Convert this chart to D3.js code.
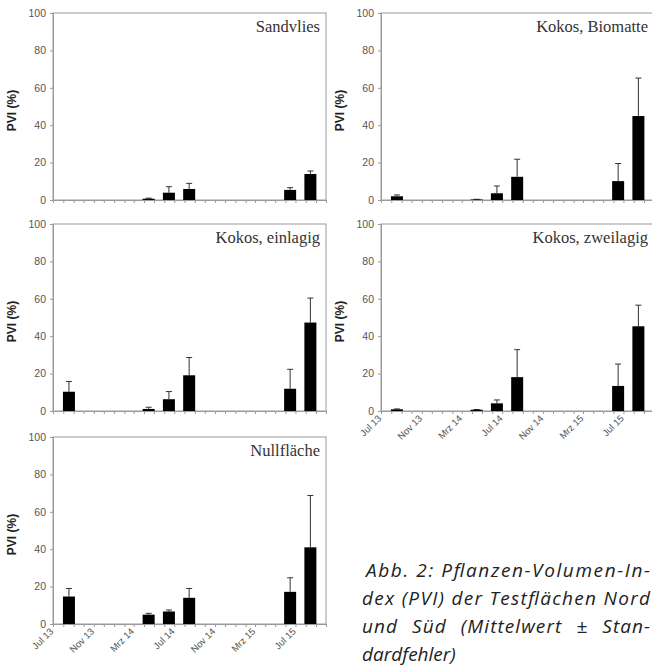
<!DOCTYPE html>
<html>
<head>
<meta charset="utf-8">
<script src="https://cdn.jsdelivr.net/npm/d3@7"></script>
<style>
  body { margin: 0; background: #fff; }
  svg { display: block; }
</style>
</head>
<body>
<svg id="chart" width="652" height="666"></svg>
<script>
// sampling dates (bar centres)
var dates = ["2013-08-18", "2014-04-15", "2014-06-15", "2014-08-15", "2015-06-15", "2015-08-15"];

// PVI (%) mean and standard error per test plot
var sandvlies      = [0, 0.7, 3.9, 5.9, 5.4, 13.9];
var sandvliesErr   = [0, 0.3, 3.2, 3.0, 1.2, 1.6];
var biomatte       = [2.0, 0.3, 3.6, 12.4, 10.1, 44.9];
var biomatteErr    = [0.7, 0.1, 3.9, 9.4, 9.4, 20.3];
var einlagig       = [10.3, 1.1, 6.3, 19.1, 11.9, 47.3];
var einlagigErr    = [5.5, 0.9, 4.1, 9.5, 10.4, 13.1];
var zweilagig      = [0.9, 0.7, 4.1, 18.1, 13.4, 45.3];
var zweilagigErr   = [0.2, 0.1, 1.8, 14.7, 11.7, 11.3];
var nullflaeche    = [14.7, 5.0, 6.7, 14.0, 17.2, 41.0];
var nullflaecheErr = [4.3, 0.7, 0.8, 5.0, 7.5, 27.7];

var titles = ["Sandvlies", "Kokos, Biomatte", "Kokos, einlagig", "Kokos, zweilagig", "Nullfläche"];

// x tick labels
var tickDates  = ["2013-07-01", "2013-11-01", "2014-03-01", "2014-07-01", "2014-11-01", "2015-03-01", "2015-07-01"];
var tickLabels = ["Jul 13", "Nov 13", "Mrz 14", "Jul 14", "Nov 14", "Mrz 15", "Jul 15"];
var yTicks = [0, 20, 40, 60, 80, 100];

var captionLines = ["Abb. 2: Pflanzen-Volumen-In-", "dex (PVI) der Testflächen Nord", "und Süd (Mittelwert ± Stan-", "dardfehler)"];

var parse = d3.timeParse("%Y-%m-%d");

var panels = [
  {title: titles[0], vals: sandvlies,   errs: sandvliesErr,   col: 0, row: 0, labels: false},
  {title: titles[1], vals: biomatte,    errs: biomatteErr,    col: 1, row: 0, labels: false},
  {title: titles[2], vals: einlagig,    errs: einlagigErr,    col: 0, row: 1, labels: false},
  {title: titles[3], vals: zweilagig,   errs: zweilagigErr,   col: 1, row: 1, labels: true},
  {title: titles[4], vals: nullflaeche, errs: nullflaecheErr, col: 0, row: 2, labels: true}
];

var colX = [53, 381], rowY = [13, 224, 437];
var pw = 273, ph = 187;

var svg = d3.select("#chart");

var x = d3.scaleTime()
  .domain([parse("2013-07-01"), parse("2015-10-01")])
  .range([0, pw]);
var y = d3.scaleLinear().domain([0, 100]).range([ph, 0]);

panels.forEach(function (p) {
  var g = svg.append("g")
    .attr("transform", "translate(" + colX[p.col] + "," + rowY[p.row] + ")");

  // frame
  g.append("rect")
    .attr("width", pw).attr("height", ph)
    .attr("fill", "none").attr("stroke", "#9a9a9a").attr("stroke-width", 1);

  // y axis
  var ya = g.append("g")
    .call(d3.axisLeft(y).tickValues(yTicks).tickSize(3).tickPadding(4));
  ya.select(".domain").attr("stroke", "#9a9a9a");
  ya.selectAll(".tick line").attr("stroke", "#9a9a9a");
  ya.selectAll("text")
    .attr("font-family", "Liberation Sans, Arial, sans-serif")
    .attr("font-size", "10.5px").attr("fill", "#555");

  // x axis, monthly minor ticks
  var xa = g.append("g")
    .attr("transform", "translate(0," + ph + ")")
    .call(d3.axisBottom(x).ticks(d3.timeMonth.every(1)).tickSize(3).tickFormat(""));
  xa.select(".domain").attr("stroke", "#9a9a9a");
  xa.selectAll(".tick line").attr("stroke", "#9a9a9a");

  if (p.labels) {
    g.selectAll(".xl")
      .data(tickDates)
      .enter()
      .append("text")
      .attr("class", "xl")
      .attr("transform", function (d) {
        return "translate(" + (x(parse(d)) + 1) + "," + (ph + 8) + ") rotate(-45)";
      })
      .attr("text-anchor", "end")
      .attr("font-family", "Liberation Sans, Arial, sans-serif")
      .attr("font-size", "9.5px")
      .attr("fill", "#555")
      .text(function (d, i) { return tickLabels[i]; });
  }

  // y title
  g.append("text")
    .attr("transform", "translate(" + -37 + "," + (ph / 2 + 4) + ") rotate(-90)")
    .attr("text-anchor", "middle")
    .attr("font-family", "Liberation Sans, Arial, sans-serif")
    .attr("font-weight", "bold")
    .attr("font-size", "12px")
    .attr("fill", "#222")
    .text("PVI (%)");

  // panel title
  g.append("text")
    .attr("x", pw - 6).attr("y", 19)
    .attr("text-anchor", "end")
    .attr("font-family", "Liberation Serif, Times New Roman, serif")
    .attr("font-size", "16.5px")
    .attr("fill", "#333")
    .text(p.title);

  var rows = dates.map(function (d, i) {
    return {date: parse(d), v: p.vals[i], e: p.errs[i]};
  });

  // error bars (upper only)
  var eb = g.selectAll(".err")
    .data(rows.filter(function (d) { return d.e > 0; }))
    .enter().append("g").attr("class", "err");
  eb.append("line")
    .attr("x1", function (d) { return x(d.date); })
    .attr("x2", function (d) { return x(d.date); })
    .attr("y1", function (d) { return y(d.v); })
    .attr("y2", function (d) { return y(d.v + d.e); })
    .attr("stroke", "#333").attr("stroke-width", 1);
  eb.append("line")
    .attr("x1", function (d) { return x(d.date) - 3; })
    .attr("x2", function (d) { return x(d.date) + 3; })
    .attr("y1", function (d) { return y(d.v + d.e); })
    .attr("y2", function (d) { return y(d.v + d.e); })
    .attr("stroke", "#333").attr("stroke-width", 1);

  // bars
  g.selectAll(".bar")
    .data(rows.filter(function (d) { return d.v > 0; }))
    .enter()
    .append("rect")
    .attr("class", "bar")
    .attr("x", function (d) { return x(d.date) - 6; })
    .attr("y", function (d) { return y(d.v); })
    .attr("width", 12)
    .attr("height", function (d) { return ph - y(d.v); })
    .attr("fill", "#000");
});

// caption, justified lines
var cap = svg.append("g")
  .selectAll("text")
  .data(captionLines)
  .enter()
  .append("text")
  .attr("x", function (d, i) { return i == 0 ? 366 : 362; })
  .attr("y", function (d, i) { return 577 + i * 28; })
  .attr("font-family", "Open Sans, Noto Sans, sans-serif")
  .attr("font-style", "italic")
  .attr("font-size", "19px")
  .attr("fill", "#222")
  .attr("word-spacing", function (d, i) { return i == 2 ? "8px" : "0px"; })
  .text(function (d) { return d; });
cap.filter(function (d, i) { return i < 3; })
  .attr("textLength", function (d, i) { return i == 0 ? 284 : 288; })
  .attr("lengthAdjust", "spacing");
</script>
</body>
</html>
